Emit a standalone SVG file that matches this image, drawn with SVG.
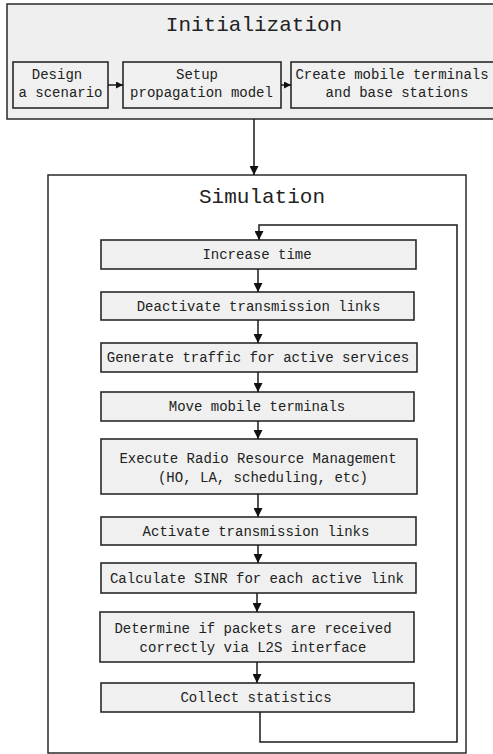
<svg xmlns="http://www.w3.org/2000/svg" width="493" height="754" viewBox="0 0 493 754">
  <style>
    .frame { fill: #efefef; stroke: #2a2a2a; stroke-width: 1.5; }
    .outer { fill: #ffffff; stroke: #2a2a2a; stroke-width: 1.5; }
    .box { fill: #eff0ef; stroke: #2a2a2a; stroke-width: 1.6; }
    .title { font-family: "Liberation Mono", "Courier New", monospace; font-size: 21px; fill: #222; text-anchor: middle; }
    .label { font-family: "Liberation Mono", "Courier New", monospace; font-size: 14px; fill: #222; text-anchor: middle; }
    .wire { fill: none; stroke: #1a1a1a; stroke-width: 1.5; }
  </style>
  <defs>
    <marker id="head" viewBox="0 0 10 10" refX="10" refY="5" markerWidth="9" markerHeight="9" markerUnits="userSpaceOnUse" orient="auto">
      <path d="M0,0 L10,5 L0,10 Z" fill="#111"/>
    </marker>
    <marker id="headSmall" viewBox="0 0 10 10" refX="10" refY="5" markerWidth="7" markerHeight="7" markerUnits="userSpaceOnUse" orient="auto">
      <path d="M0,0 L10,5 L0,10 Z" fill="#111"/>
    </marker>
  </defs>

  <!-- Initialization stage -->
  <g id="initialization">
    <rect class="frame" x="7" y="4" width="492" height="115"/>
    <text class="title" x="254" y="31">Initialization</text>
  </g>
  <g id="design-scenario">
    <rect class="box" x="13" y="62" width="95" height="46"/>
    <text class="label" x="57" y="79">Design</text>
    <text class="label" x="60.5" y="97">a scenario</text>
  </g>
  <g id="setup-propagation">
    <rect class="box" x="123" y="62" width="158" height="46"/>
    <text class="label" x="197" y="79">Setup</text>
    <text class="label" x="201.5" y="97">propagation model</text>
  </g>
  <g id="create-terminals">
    <rect class="box" x="291" y="62" width="206" height="46"/>
    <text class="label" x="392" y="79">Create mobile terminals</text>
    <text class="label" x="397" y="97">and base stations</text>
  </g>

  <!-- Simulation stage -->
  <g id="simulation">
    <rect class="outer" x="48" y="175" width="418" height="578"/>
    <text class="title" x="262" y="203">Simulation</text>
  </g>
  <g id="increase-time">
    <rect class="box" x="101" y="240" width="315" height="29"/>
    <text class="label" x="257" y="259">Increase time</text>
  </g>
  <g id="deactivate-links">
    <rect class="box" x="101" y="292" width="313" height="28"/>
    <text class="label" x="258.5" y="311">Deactivate transmission links</text>
  </g>
  <g id="generate-traffic">
    <rect class="box" x="101" y="343" width="316" height="29"/>
    <text class="label" x="258" y="362">Generate traffic for active services</text>
  </g>
  <g id="move-terminals">
    <rect class="box" x="101" y="392" width="313" height="29"/>
    <text class="label" x="257" y="411">Move mobile terminals</text>
  </g>
  <g id="execute-rrm">
    <rect class="box" x="101" y="439" width="316" height="55"/>
    <text class="label" x="258" y="463">Execute Radio Resource Management</text>
    <text class="label" x="263" y="482">(HO, LA, scheduling, etc)</text>
  </g>
  <g id="activate-links">
    <rect class="box" x="101" y="517" width="315" height="28"/>
    <text class="label" x="256" y="536">Activate transmission links</text>
  </g>
  <g id="calculate-sinr">
    <rect class="box" x="101" y="563" width="315" height="30"/>
    <text class="label" x="257" y="583">Calculate SINR for each active link</text>
  </g>
  <g id="determine-packets">
    <rect class="box" x="100" y="612" width="314" height="50"/>
    <text class="label" x="253" y="633">Determine if packets are received</text>
    <text class="label" x="253" y="652">correctly via L2S interface</text>
  </g>
  <g id="collect-statistics">
    <rect class="box" x="101" y="683" width="313" height="29"/>
    <text class="label" x="256" y="702">Collect statistics</text>
  </g>

  <!-- Connectors -->
  <g id="connectors">
    <line class="wire" x1="108" y1="85" x2="123" y2="85" marker-end="url(#headSmall)"/>
    <line class="wire" x1="281" y1="85" x2="291" y2="85" marker-end="url(#headSmall)"/>
    <line class="wire" x1="254" y1="119" x2="254" y2="175" marker-end="url(#head)"/>
    <line class="wire" x1="258" y1="269" x2="258" y2="292" marker-end="url(#head)"/>
    <line class="wire" x1="258" y1="320" x2="258" y2="343" marker-end="url(#head)"/>
    <line class="wire" x1="258" y1="372" x2="258" y2="392" marker-end="url(#head)"/>
    <line class="wire" x1="258" y1="421" x2="258" y2="439" marker-end="url(#head)"/>
    <line class="wire" x1="258" y1="494" x2="258" y2="517" marker-end="url(#head)"/>
    <line class="wire" x1="258" y1="545" x2="258" y2="563" marker-end="url(#head)"/>
    <line class="wire" x1="257" y1="593" x2="257" y2="612" marker-end="url(#head)"/>
    <line class="wire" x1="257" y1="662" x2="257" y2="683" marker-end="url(#head)"/>
    <polyline class="wire" points="260,712 260,742 457,742 457,225 259,225 259,240" marker-end="url(#head)"/>
  </g>
</svg>
